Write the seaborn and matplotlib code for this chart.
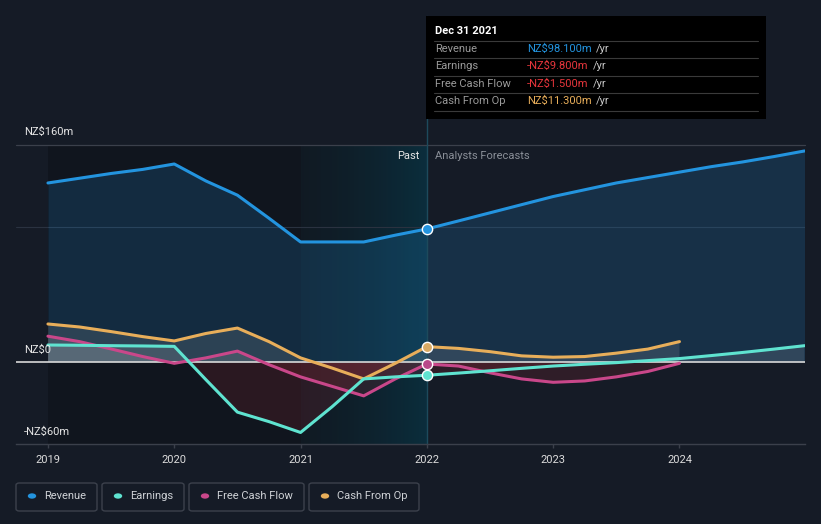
import numpy as np
import pandas as pd
import matplotlib
matplotlib.use("Agg")
import matplotlib.pyplot as plt
from matplotlib.patches import Rectangle, FancyBboxPatch
from matplotlib.lines import Line2D
import seaborn as sns

# ---- data (NZ$ m) ----
past_t = [2019.0, 2019.25, 2019.5, 2019.75, 2020.0, 2020.25, 2020.5, 2020.75,
          2021.0, 2021.25, 2021.5, 2021.75, 2022.0]
revenue_past = [132, 135.5, 139, 142, 146, 133.5, 123, 106, 88.5, 88.5, 88.5, 93.5, 98.1]
earnings_past = [12.5, 12.3, 12.0, 11.8, 11.5, -13, -37, -44, -52, -33, -12.5, -11, -9.8]
fcf_past = [19, 15, 9.6, 4, -1, 3, 8, -2, -11, -18, -25, -12.5, -1.5]
cfo_past = [28, 25.8, 22.4, 18.7, 15.5, 21, 25, 15, 3, -4.5, -12.5, -1, 11.3]

fc_t_long = [2022.0, 2022.25, 2022.5, 2022.75, 2023.0, 2023.25, 2023.5, 2023.75,
             2024.0, 2024.25, 2024.5, 2024.75, 2024.99]
revenue_fc = [98.1, 104, 110, 116, 122, 127, 132, 136, 140, 144, 147.5, 151.5, 155.6]
earnings_fc = [-9.8, -8.2, -6.5, -4.7, -3, -1.7, -0.5, 1, 2.5, 4.7, 7, 9.5, 12]
fc_t_short = [2022.0, 2022.25, 2022.5, 2022.75, 2023.0, 2023.25, 2023.5, 2023.75, 2024.0]
fcf_fc = [-1.5, -3, -8, -12.5, -15, -14, -11, -7, -1]
cfo_fc = [11.3, 10, 7.6, 4.5, 3.5, 4, 6.5, 9.5, 15]

years = [2019, 2020, 2021, 2022, 2023, 2024]

C_BG = "#151b26"
C_REV = "#2394df"
C_EARN = "#5fe3d0"
C_FCF = "#c9478a"
C_CFO = "#e8ae5a"
C_AXIS = "#3b404b"

def series(t, v, name):
    return pd.DataFrame({"t": t, "v": v, "s": name})

rev = pd.concat([series(past_t, revenue_past, "Revenue"),
                 series(fc_t_long[1:], revenue_fc[1:], "Revenue")])
earn = pd.concat([series(past_t, earnings_past, "Earnings"),
                  series(fc_t_long[1:], earnings_fc[1:], "Earnings")])
fcf = pd.concat([series(past_t, fcf_past, "FCF"),
                 series(fc_t_short[1:], fcf_fc[1:], "FCF")])
cfo = pd.concat([series(past_t, cfo_past, "CFO"),
                 series(fc_t_short[1:], cfo_fc[1:], "CFO")])

sns.set_theme(style="dark", rc={"axes.facecolor": C_BG, "figure.facecolor": C_BG})
plt.rcParams["font.family"] = ["Roboto", "DejaVu Sans"]

W, H = 821, 524
fig = plt.figure(figsize=(W / 100, H / 100), dpi=100)

def fx(x):
    return x / W

def fy(y):
    return 1 - y / H

ax = fig.add_axes([fx(16), fy(444), fx(805) - fx(16), fy(145) - fy(444)])
ax.set_facecolor(C_BG)
ax.set_xlim(2018.747, 2024.994)
ax.set_ylim(-60.5, 160)

# past region darkening and highlighted last year
ax.axvspan(2019, 2021, color="black", alpha=0.2, lw=0, zorder=0)
grad = np.zeros((1, 100, 4))
grad[0, :, 0] = np.linspace(0.05, 0.04, 100)
grad[0, :, 1] = np.linspace(0.10, 0.19, 100)
grad[0, :, 2] = np.linspace(0.13, 0.25, 100)
grad[0, :, 3] = np.linspace(0.5, 0.9, 100)
ax.imshow(grad, extent=[2021, 2022, -60.5, 160], aspect="auto", zorder=0.5)

# grid lines
ax.axhline(160, color=C_AXIS, lw=0.9, zorder=1, clip_on=False)
ax.axhline(99.5, color="#2a3240", lw=0.8, zorder=1)

# fills
ax.fill_between(rev["t"], rev["v"], 0, color=C_REV, alpha=0.18, lw=0, zorder=1)
for df in (earn, fcf, cfo):
    t = df["t"].to_numpy()
    v = df["v"].to_numpy()
    ax.fill_between(t, v, 0, where=v >= 0, interpolate=True, color="white", alpha=0.11, lw=0, zorder=1)
    ax.fill_between(t, v, 0, where=v <= 0, interpolate=True, color="#e0303c", alpha=0.13, lw=0, zorder=1)

ax.axhline(0, color="#d8d8d8", lw=1.2, zorder=2)

# lines
for df, c in ((rev, C_REV), (cfo, C_CFO), (fcf, C_FCF), (earn, C_EARN)):
    sns.lineplot(data=df, x="t", y="v", color=c, lw=2.2, ax=ax, zorder=3, estimator=None, sort=True)

# vertical marker line at Dec 31 2021
ax.axvline(2022, ymin=0, ymax=(444 - 16) / (444 - 145), color="#1d4a5c", lw=1, zorder=2, clip_on=False)

for v, c in ((revenue_past[-1], C_REV), (cfo_past[-1], "#d9aa64"),
             (fcf_past[-1], "#b8488a"), (earnings_past[-1], C_EARN)):
    ax.scatter([2022], [v], s=55, color=c, edgecolor="white", linewidth=1, zorder=5)

# axes styling
for side in ("top", "right", "left"):
    ax.spines[side].set_visible(False)
ax.spines["bottom"].set_color(C_AXIS)
ax.spines["bottom"].set_linewidth(1)
ax.set_xticks(years)
ax.set_xticklabels([str(y) for y in years], color="#dcdcdc", fontsize=8)
ax.tick_params(axis="x", length=3, width=1, color=C_AXIS, pad=5, bottom=True)
ax.set_yticks([])
ax.set_xlabel("")
ax.set_ylabel("")
ax.grid(False)

# y labels
for y, txt in ((132, "NZ$160m"), (350, "NZ$0"), (432, "-NZ$60m")):
    fig.text(fx(24), fy(y), txt, color="#e6e6e6", fontsize=8, va="center", ha="left")

fig.text(fx(419), fy(156), "Past", color="#e6e6e6", fontsize=8, va="center", ha="right")
fig.text(fx(435), fy(156), "Analysts Forecasts", color="#8a8f98", fontsize=8, va="center", ha="left")

# tooltip
fig.patches.append(Rectangle((fx(426), fy(119)), fx(766) - fx(426), fy(16) - fy(119),
                             transform=fig.transFigure, facecolor="black", edgecolor="none", zorder=10))
fig.text(fx(435), fy(31), "Dec 31 2021", color="white", fontsize=8, fontweight="bold",
         va="center", ha="left", zorder=11)
for y in (41, 58, 76, 93, 111):
    fig.lines.append(Line2D([fx(434), fx(758)], [fy(y), fy(y)], transform=fig.transFigure,
                            color="#3a3a3a", lw=0.8, zorder=11))
rows = [("Revenue", "NZ$98.100m", C_REV, 49),
        ("Earnings", "-NZ$9.800m", "#e8363c", 66),
        ("Free Cash Flow", "-NZ$1.500m", "#e8363c", 84),
        ("Cash From Op", "NZ$11.300m", C_CFO, 101)]
for label, val, col, y in rows:
    fig.text(fx(435), fy(y), label, color="#9a9a9a", fontsize=8, va="center", ha="left", zorder=11)
    t = fig.text(fx(527), fy(y), val, color=col, fontsize=8, va="center", ha="left", zorder=11)
    fig.canvas.draw()
    bb = t.get_window_extent()
    fig.text(bb.x1 / W + fx(4), fy(y), "/yr", color="#c8c8c8", fontsize=8, va="center", ha="left", zorder=11)

# legend
legend = [("Revenue", C_REV, 16, 97), ("Earnings", C_EARN, 102, 184),
          ("Free Cash Flow", C_FCF, 189, 304), ("Cash From Op", C_CFO, 309, 419)]
for name, col, x0, x1 in legend:
    fig.patches.append(FancyBboxPatch((fx(x0), fy(511)), fx(x1) - fx(x0), fy(483) - fy(511),
                                      boxstyle="round,pad=0,rounding_size=0.004",
                                      transform=fig.transFigure, facecolor="none",
                                      edgecolor="#3c414c", lw=1))
    fig.patches.append(plt.Circle((fx(x0 + 16), fy(496)), 4.2 / W, transform=fig.transFigure,
                                  facecolor=col, edgecolor="none"))
    fig.text(fx(x0 + 28), fy(496), name, color="#cfd2d6", fontsize=8, va="center", ha="left")

fig.savefig("out.png", dpi=100, facecolor=C_BG)
